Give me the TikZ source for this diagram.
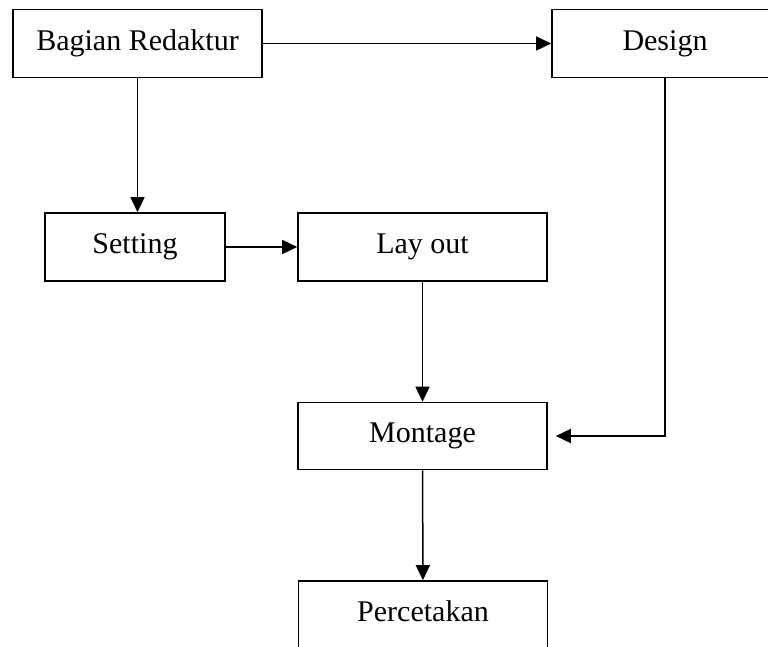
\documentclass[tikz,border=0pt]{standalone}
\usepackage{fontspec}
\setmainfont{Liberation Serif}
\usetikzlibrary{arrows.meta}

\begin{document}
\begin{tikzpicture}[x=1pt,y=1pt,
  box/.style={draw=black,line width=1.6pt,minimum width=249pt,minimum height=68pt,inner sep=0pt,text height=20pt,text depth=7pt,font=\fontsize{30}{36}\selectfont},
  conn/.style={draw=black,line width=1.5pt,-{Triangle[length=15pt,width=14pt]}}]
\clip (0,0) rectangle (768,-646);
\node [box] (redaktur) at (137.5,-43.5) {Bagian Redaktur};
\node [box,minimum width=226pt] (design) at (665,-43.5) {Design};
\node [box,minimum width=180pt] (setting) at (135,-247) {Setting};
\node [box] (layout) at (422.5,-247) {Lay out};
\node [box,minimum height=67pt] (montage) at (422.5,-436) {Montage};
\node [box] (percetakan) at (423,-615) {Percetakan};
\draw [conn] (redaktur) -- (design);
\draw [conn] (redaktur.south) -- (redaktur.south |- setting.north);
\draw [conn] (setting) -- (layout);
\draw [conn] (layout) -- (montage);
\draw [conn,shorten >=8pt] (design.south) |- (montage.east);
\draw [conn] (montage) -- (percetakan);
\end{tikzpicture}
\end{document}
